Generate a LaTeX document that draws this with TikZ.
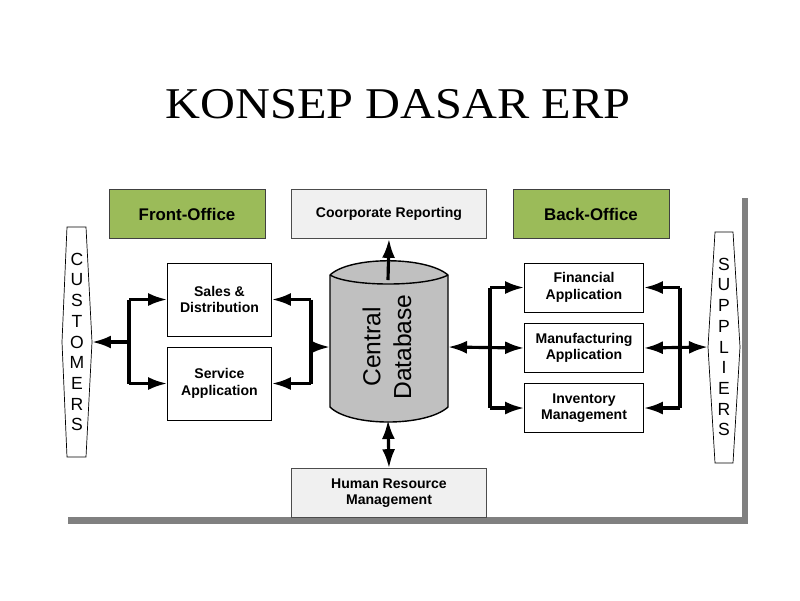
\documentclass[tikz,border=0pt]{standalone}
\usepackage{fontspec}
\setmainfont{Liberation Serif}
\setsansfont{Liberation Sans}
\usetikzlibrary{arrows.meta}
\definecolor{officegreen}{HTML}{9BBB59}
\definecolor{dbgray}{HTML}{C0C0C0}
\begin{document}
\begin{tikzpicture}[x=0.02cm,y=-0.02cm,
office/.style={draw=black!75,fill=officegreen,minimum width=3.12cm,minimum height=0.98cm,font=\sffamily\bfseries\fontsize{9.6}{11}\selectfont},
module/.style={draw=black!70,fill=gray!12,minimum width=3.9cm,minimum height=0.98cm,align=center,font=\sffamily\bfseries\fontsize{8}{9.5}\selectfont},
appbox/.style={draw,fill=white,minimum width=2.08cm,minimum height=1.46cm,align=center,font=\sffamily\bfseries\fontsize{8}{9.5}\selectfont},
backbox/.style={draw,fill=white,minimum width=2.38cm,minimum height=0.98cm,align=center,font=\sffamily\bfseries\fontsize{8}{9.5}\selectfont},
partner/.style={align=center,font=\sffamily\fontsize{10}{11.8}\selectfont},
link/.style={line width=1.8pt},
>={Latex[length=3.8mm,width=2.6mm]}]
\useasboundingbox (0,0) rectangle (800,600);
\fill[black!50] (742,198) rectangle (748,524);
\fill[black!50] (68,517) rectangle (748,524);
\node[font=\rmfamily\fontsize{25}{30}\selectfont,anchor=base] (title) at (398,118) {\scalebox{1.1}[1]{KONSEP DASAR ERP}};

\node[office] (front) at (187,214) {Front-Office};
\node[module] (report) at (389,214) {Coorporate Reporting};
\node[office] (back) at (591,214) {Back-Office};
\node[module] (hrm) at (389,493) {Human Resource\\Management};

\node[appbox] (sales) at (219.5,299.5) {Sales \&\\Distribution};
\node[appbox] (service) at (219.5,383.5) {Service\\Application};

\node[backbox] (fin) at (584,287.5) {Financial\\Application};
\node[backbox] (manu) at (584,348) {Manufacturing\\Application};
\node[backbox] (inv) at (584,408) {Inventory\\Management};

\draw[fill=white] (67,227) -- (86,227) -- (92,342) -- (86,457) -- (67,457) -- (62,342) -- cycle;
\node[partner] (cust) at (77,342) {C\\U\\S\\T\\O\\M\\E\\R\\S};
\coordinate (cust-e) at (92,342);
\draw[fill=white] (715,232) -- (733,232) -- (740,347) -- (733,463) -- (715,463) -- (708,347) -- cycle;
\node[partner] (supp) at (724,347) {S\\U\\P\\P\\L\\I\\E\\R\\S};
\coordinate (supp-w) at (708,347);

\draw[thick,fill=dbgray] (330,275) .. controls (350,256) and (426,256) .. (448,275) -- (448,407)
  .. controls (426,427) and (350,427) .. (330,407) -- cycle;
\draw[thick] (330,275) .. controls (350,287) and (426,287) .. (448,275);
\node[rotate=90,align=center,font=\sffamily\fontsize{14}{17.5}\selectfont] (db) at (387,347) {Central\\Database};
\coordinate (db-n) at (388,280);
\coordinate (db-s) at (388,420);
\coordinate (db-w) at (330,347);
\coordinate (db-e) at (448,347);

\coordinate (busa) at (129,342);
\coordinate (busb) at (311,347);
\coordinate (busc) at (490,347);
\coordinate (busd) at (680,347);

\draw[link,->] (busa) -- (cust-e);
\draw[link,->] (busa |- sales.west) -- (sales.west);
\draw[link,->] (busa |- service.west) -- (service.west);
\draw[link] (busa |- sales.west) -- (busa |- service.west);

\draw[link,->] (busb |- sales.east) -- (sales.east);
\draw[link,->] (busb |- service.east) -- (service.east);
\draw[link] (busb |- sales.east) -- (busb |- service.east);
\draw[link,->] (busb) -- (db-w);

\draw[link,->] (db-n) -- (report.south);
\draw[link,<->] (db-s) -- (hrm.north);

\draw[link,<->] (db-e) -- (manu.west);
\draw[link,->] (busc |- fin.west) -- (fin.west);
\draw[link,->] (busc |- inv.west) -- (inv.west);
\draw[link] (busc |- fin.west) -- (busc |- inv.west);

\draw[link,<->] (manu.east) -- (supp-w);
\draw[link,->] (busd |- fin.east) -- (fin.east);
\draw[link,->] (busd |- inv.east) -- (inv.east);
\draw[link] (busd |- fin.east) -- (busd |- inv.east);
\end{tikzpicture}
\end{document}
